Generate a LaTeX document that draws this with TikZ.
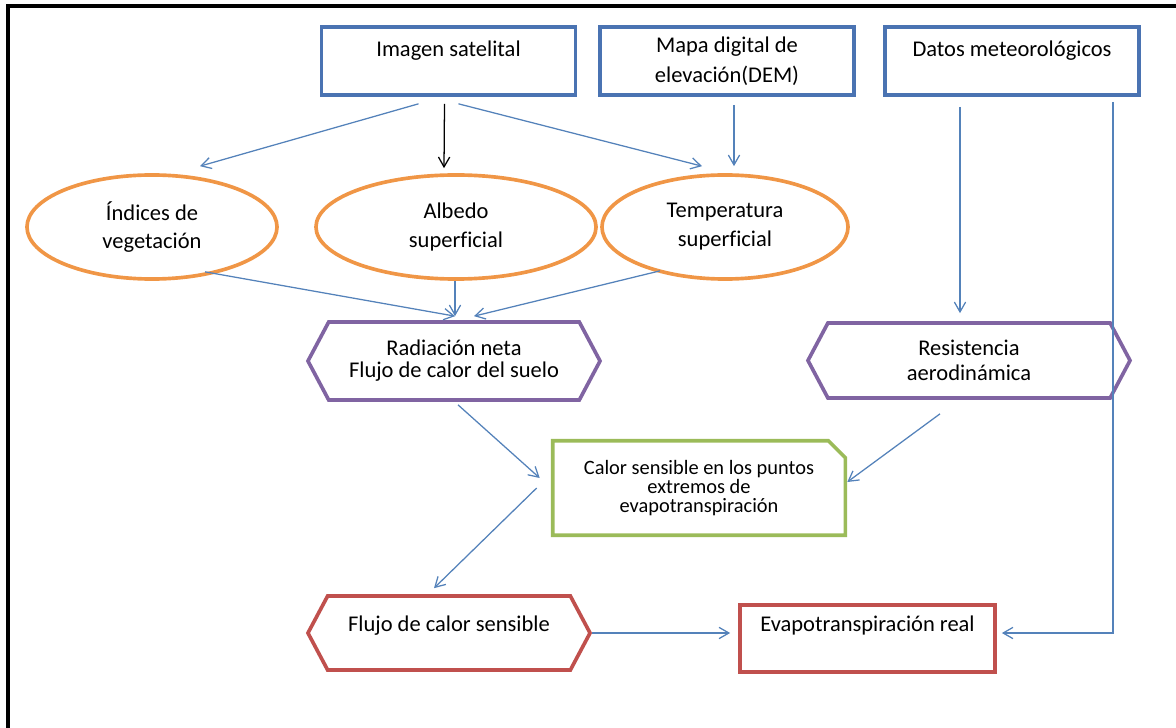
\documentclass[tikz,border=0pt]{standalone}
\usepackage{fontspec}
\setmainfont{Carlito}[Ligatures=NoCommon]
\usetikzlibrary{shapes.geometric,shapes.symbols,arrows.meta}

\definecolor{inblue}{RGB}{74,115,178}
\definecolor{prodorange}{RGB}{240,150,70}
\definecolor{procpurple}{RGB}{128,100,162}
\definecolor{midgreen}{RGB}{155,187,89}
\definecolor{outred}{RGB}{192,80,77}
\definecolor{linkblue}{RGB}{84,130,186}

\tikzset{
  inbox/.style={draw=inblue, line width=2.6pt, minimum width=6.35cm, minimum height=1.7cm, align=center},
  layer/.style={ellipse, draw=prodorange, line width=2.6pt, minimum height=2.6cm, align=center, font=\fontsize{16}{20.5}\selectfont},
  hexa/.style={signal, signal to=west and east, signal pointer angle=124, line width=2.6pt, align=center, inner sep=0pt},
  link/.style={draw=linkblue, line width=0.9pt, -{Straight Barb[length=7pt,width=8pt]}},
}

\begin{document}
\begin{tikzpicture}[x=0.025cm,y=-0.025cm]

        \useasboundingbox (0,0) rectangle (1176,728);
        \draw[line width=2.6pt] (8,728) -- (8,6) -- (1176,6);

        \begin{scope}[every node/.style={inbox}]
          \node[font=\fontsize{16}{13.2}\selectfont] (img) at (448.5,61) {Imagen satelital\\\strut};
          \node[font=\fontsize{16}{21.3}\selectfont] (dem) at (727,61)   {Mapa digital de\\elevación(DEM)};
          \node[font=\fontsize{16}{13.2}\selectfont] (met) at (1012,61)  {Datos meteorológicos\\\strut};
        \end{scope}

        \node[layer, minimum width=6.25cm] (veg)  at (152,227) {Índices de\\vegetación};
        \node[layer, minimum width=7cm]    (alb)  at (456,227) {Albedo\\superficial};
        \node[layer, minimum width=6.15cm] (temp) at (725,227) {Temperatura\\superficial};

        \node[hexa, draw=procpurple, minimum width=7.3cm, minimum height=1.95cm,
              font=\fontsize{16}{15.6}\selectfont] (rad) at (454,361) {Radiación neta\\Flujo de calor del suelo};
        \node[hexa, draw=procpurple, minimum width=8.05cm, minimum height=1.875cm,
              font=\fontsize{16}{17.7}\selectfont] (res) at (969,360.5) {Resistencia\\aerodinámica};
        \node[hexa, draw=outred, minimum width=7.05cm, minimum height=1.85cm,
              font=\fontsize{16}{9.9}\selectfont] (flujo) at (449,633) {Flujo de calor sensible\\\strut};

        \node[minimum width=7.3cm, minimum height=2.25cm, align=center,
              font=\fontsize{14.5}{13.8}\selectfont] (calor) at (699,488)
              {Calor sensible en los puntos\\extremos de\\evapotranspiración};
        \draw[midgreen, line width=2.6pt] ([shift={(0,-2)}]calor.north west) -- ([shift={(-17,-2)}]calor.north east)
              -- ([shift={(0,15)}]calor.north east) -- ([shift={(0,2)}]calor.south east)
              -- ([shift={(0,2)}]calor.south west) -- cycle;

        \node[draw=outred, line width=2.6pt, minimum width=6.375cm, minimum height=1.675cm, align=center,
              font=\fontsize{16}{15.9}\selectfont] (evapo) at (867.5,638.5) {Evapotranspiración real\\\strut};

        % connectors
        \draw[link] ([shift={(-30,7)}]img.south) -- ([shift={(48,-7)}]veg.north);
        \draw[link, draw=black] ([shift={(-4,7)}]img.south) -- ([shift={(-12,-5)}]alb.north);
        \draw[link] ([shift={(10,7)}]img.south) -- ([shift={(-23,-7)}]temp.north);
        \draw[link] ([shift={(7,8)}]dem.south) -- ([shift={(9,-7)}]temp.north);
        \draw[link] ([shift={(-52,10)}]met.south) -- ([shift={(-9,-8)}]res.north);
        \draw[link] ([shift={(101,5)}]met.south) |- ([shift={(5,-5.5)}]evapo.east);
        \draw[link] ([shift={(53,-9)}]veg.south) -- ([shift={(1,-4)}]rad.north);
        \draw[link] ([shift={(-1,0)}]alb.south) -- ([shift={(1,-4)}]rad.north);
        \draw[link] ([shift={(-65,-10)}]temp.south) -- ([shift={(20,-4)}]rad.north);
        \draw[link] ([shift={(4,3)}]rad.south) -- ([shift={(-13,-10)}]calor.west);
        \draw[link] ([shift={(-29,14)}]res.south) -- ([shift={(2,-6)}]calor.east);
        \draw[link] ([shift={(-16,0)}]calor.west) -- ([shift={(-15,-6)}]flujo.north);
        \draw[link] (flujo.east) -- ([shift={(-8,-5.5)}]evapo.west);

\end{tikzpicture}
\end{document}
